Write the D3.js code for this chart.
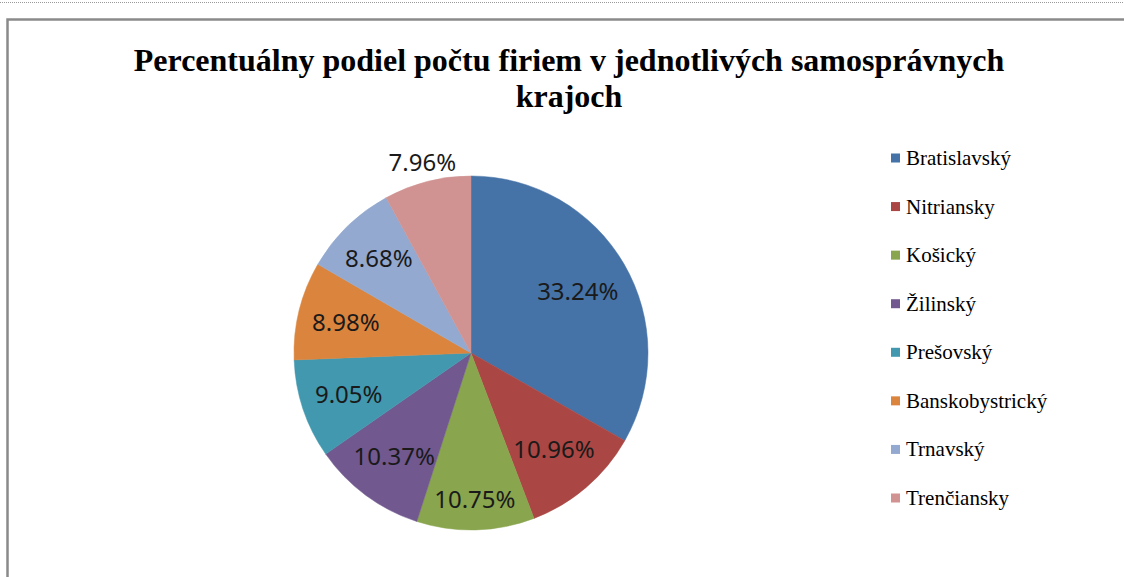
<!DOCTYPE html>
<html>
<head>
<meta charset="utf-8">
<script src="https://cdn.jsdelivr.net/npm/d3@7"></script>
<style>
  body { margin: 0; background: #fff; }
  svg { display: block; }
</style>
</head>
<body>
<div id="chart"></div>
<script>
// Data
const regions = ["Bratislavský", "Nitriansky", "Košický", "Žilinský", "Prešovský", "Banskobystrický", "Trnavský", "Trenčiansky"];
const shares = [33.24, 10.96, 10.75, 10.37, 9.05, 8.98, 8.68, 7.96];
const colors = ["#4572A7", "#AA4643", "#89A54E", "#71588F", "#4198AF", "#DB843D", "#93A9CF", "#D19392"];
const outsideLabels = ["Trenčiansky"];
const titleLines = ["Percentuálny podiel počtu firiem v jednotlivých samosprávnych", "krajoch"];

const width = 1124;
const height = 577;

const svg = d3.select("#chart")
    .append("svg")
    .attr("width", width)
    .attr("height", height);

// Dotted line at the very top
svg.append("line")
    .attr("x1", 0).attr("x2", width)
    .attr("y1", 2.5).attr("y2", 2.5)
    .style("stroke", "#999")
    .style("stroke-width", 1)
    .style("stroke-dasharray", "1,1");

// Chart frame (runs off the right and bottom edges)
svg.append("rect")
    .attr("x", 7.5)
    .attr("y", 19.5)
    .attr("width", width + 20)
    .attr("height", height + 20)
    .style("fill", "none")
    .style("stroke", "#8a8a8a")
    .style("stroke-width", 2.5);

// Title
svg.append("g")
    .selectAll("text")
    .data(titleLines)
    .join("text")
    .attr("x", 569)
    .attr("y", (d, i) => 71 + i * 36)
    .attr("text-anchor", "middle")
    .style("font-family", "'Liberation Serif', 'Times New Roman', serif")
    .style("font-weight", "bold")
    .style("font-size", "32px")
    .style("fill", "#000")
    .text(d => d);

// Pie
const cx = 471, cy = 353, radius = 177;
const g = svg.append("g")
    .attr("transform", `translate(${cx}, ${cy})`);

const pie = d3.pie()
    .value(d => d.value)
    .sort(null);

const arcs = pie(regions.map((r, i) => ({ name: r, value: shares[i], color: colors[i] })));

const arc = d3.arc()
    .innerRadius(0)
    .outerRadius(radius);

const outerLabelArc = d3.arc()
    .innerRadius(radius * 1.11)
    .outerRadius(radius * 1.11);

g.selectAll("path")
    .data(arcs)
    .join("path")
    .attr("d", arc)
    .style("fill", d => d.data.color)
    .style("stroke", d => d.data.color)
    .style("stroke-width", 0.5);

const labels = g.selectAll("text.value")
    .data(arcs)
    .join("text")
    .attr("class", "value")
    .attr("text-anchor", "middle")
    .attr("dy", "0.36em")
    .style("font-family", "'Noto Sans', 'Open Sans', sans-serif")
    .style("font-size", "24px")
    .style("fill", "#1a1a1a")
    .text(d => d.data.value.toFixed(2) + "%");

// "best fit": push each inside label out along the bisector until its box hits the edge
const fitRadius = radius - 12;
labels.attr("transform", function(d) {
    if (outsideLabels.includes(d.data.name)) {
        return `translate(${outerLabelArc.centroid(d)})`;
    }
    const w = this.getComputedTextLength() / 2;
    const h = 12;
    const a = (d.startAngle + d.endAngle) / 2;
    const ux = Math.sin(a), uy = -Math.cos(a);
    let r = 0;
    for (let t = 0; t < fitRadius; t += 0.5) {
        const x = ux * t, y = uy * t;
        const far = Math.max(
            Math.hypot(x - w, y - h), Math.hypot(x + w, y - h),
            Math.hypot(x - w, y + h), Math.hypot(x + w, y + h));
        if (far > fitRadius) break;
        r = t;
    }
    return `translate(${ux * r}, ${uy * r})`;
});

// Legend
const legendY = d3.scalePoint()
    .domain(regions)
    .range([158, 498]);

const legend = svg.append("g")
    .selectAll("g")
    .data(regions)
    .join("g")
    .attr("transform", d => `translate(891, ${legendY(d)})`);

legend.append("rect")
    .attr("x", 0)
    .attr("y", -4.5)
    .attr("width", 9)
    .attr("height", 9)
    .style("fill", (d, i) => colors[i]);

legend.append("text")
    .attr("x", 15)
    .attr("y", 7)
    .style("font-family", "'Liberation Serif', 'Times New Roman', serif")
    .style("font-size", "21px")
    .style("fill", "#000")
    .text(d => d);
</script>
</body>
</html>
